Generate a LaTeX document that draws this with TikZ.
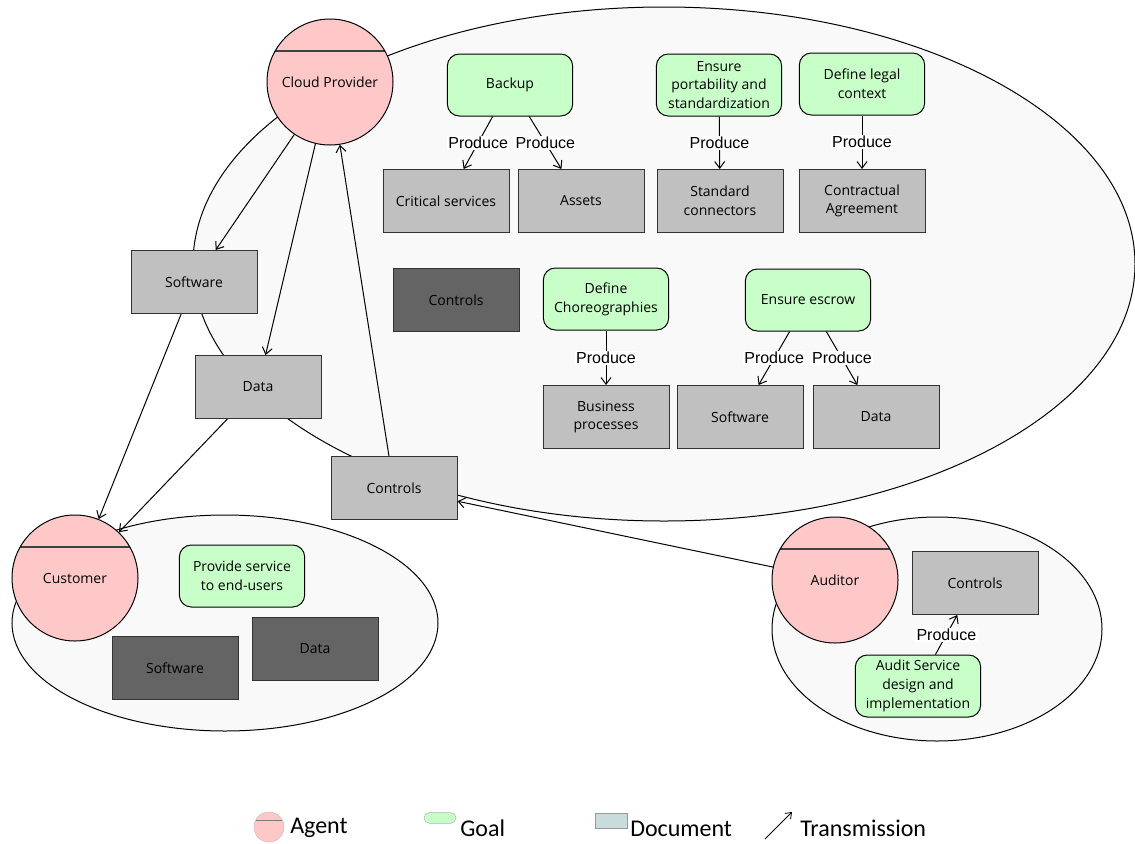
\documentclass[tikz,border=0pt]{standalone}
\usepackage{fontspec}
\setmainfont{Open Sans}
\newfontfamily\labelfont{Liberation Sans}
\newfontfamily\legendfont{Carlito}
\usetikzlibrary{arrows.meta,shapes.geometric}
\definecolor{agentfill}{HTML}{FFC8C8}
\definecolor{goalfill}{HTML}{C8FFC8}
\definecolor{docfill}{HTML}{C0C0C0}
\definecolor{darkdocfill}{HTML}{646464}
\definecolor{areafill}{HTML}{F9F9F9}
\definecolor{legdoc}{HTML}{C8DCDC}
\definecolor{chordcol}{HTML}{404040}
\tikzset{
  txt/.style={font=\fontsize{10.5}{14}\selectfont, align=center},
  area/.style={ellipse, draw=black, line width=0.75pt, fill=areafill, inner sep=0pt},
  agent/.style={circle, draw=black, line width=0.75pt, fill=agentfill, minimum size=94.5pt, inner sep=0pt, txt,
    path picture={\draw[chordcol, line width=1pt] ([shift={(-41.1pt,23.25pt)}]path picture bounding box.center) -- ++(82.2pt,0pt);}},
  doc/.style={rectangle, draw=black!80, line width=0.75pt, fill=docfill, minimum width=94.5pt, minimum height=47.25pt, inner sep=1pt, txt},
  darkdoc/.style={doc, fill=darkdocfill},
  goal/.style={rectangle, rounded corners=9pt, draw=black, line width=0.75pt, fill=goalfill, minimum width=94pt, minimum height=46.5pt, inner sep=1pt, txt},
  tip/.style={-{Straight Barb[length=5pt,width=7.5pt]}},
  trans/.style={tip, line width=0.75pt},
  prod/.style={tip, line width=0.75pt},
  plabel/.style={fill=white, inner sep=1pt, font=\labelfont\fontsize{12}{14}\selectfont},
  legtext/.style={anchor=west, inner sep=0pt, font=\legendfont\fontsize{18}{20}\selectfont}
}
\begin{document}
\begin{tikzpicture}[x=0.75pt,y=-0.75pt]
\useasboundingbox (0,0) rectangle (1135,843);
% areas
\node[area, minimum width=706.5pt, minimum height=385.5pt] (cparea) at (664,264) {};
\node[area, minimum width=319.5pt, minimum height=162pt] (custarea) at (225,623) {};
\node[area, minimum width=247.5pt, minimum height=168pt] (audarea) at (937,629) {};
% agents
\node[agent] (cp) at (330,82) {Cloud Provider};
\node[agent] (cust) at (75,578) {Customer};
\node[agent] (aud) at (835,580) {Auditor};
% cloud provider goals and documents
\node[goal] (backup) at (510,85) {Backup};
\node[goal] (port) at (719,85) {Ensure\\portability and\\standardization};
\node[goal] (legal) at (862,84) {Define legal\\context};
\node[doc] (crit) at (446,201) {Critical services};
\node[doc] (assets) at (581,201) {Assets};
\node[doc] (stdcon) at (720,201) {Standard\\connectors};
\node[doc] (contract) at (862,201) {Contractual\\Agreement};
\node[darkdoc] (ctrldark) at (456,300) {Controls};
\node[goal] (chor) at (606,299) {Define\\Choreographies};
\node[goal] (escrow) at (808,300) {Ensure escrow};
\node[doc] (bproc) at (606,417) {Business\\processes};
\node[doc] (sw2) at (740,417) {Software};
\node[doc] (data2) at (876,417) {Data};
% transmitted documents
\node[doc] (sw) at (194,282) {Software};
\node[doc] (data) at (258,387) {Data};
\node[doc] (ctrl) at (394,488) {Controls};
% customer
\node[goal] (provide) at (242,576) {Provide service\\to end-users};
\node[darkdoc] (custsw) at (175,668) {Software};
\node[darkdoc] (custdata) at (315,649) {Data};
% auditor
\node[doc] (audctrl) at (975,583) {Controls};
\node[goal] (audgoal) at (918,686) {Audit Service\\design and\\implementation};
% produce edges
\draw[prod] (backup) -- node[plabel]{Produce} (crit);
\draw[prod] (backup) -- node[plabel]{Produce} (assets);
\draw[prod] (port) -- node[plabel]{Produce} (stdcon);
\draw[prod] (legal) -- node[plabel]{Produce} (contract);
\draw[prod] (chor) -- node[plabel]{Produce} (bproc);
\draw[prod] (escrow) -- node[plabel]{Produce} (sw2);
\draw[prod] (escrow) -- node[plabel]{Produce} (data2);
\draw[prod] (audgoal) -- node[plabel]{Produce} (audctrl);
% transmissions
\draw[trans] (cp) -- (sw);
\draw[trans] (cp) -- (data);
\draw[trans] (ctrl) -- (cp);
\draw[trans] (sw) -- (cust);
\draw[trans] (data) -- (cust);
\draw[trans] (aud) -- (ctrl);
% legend
\node[circle, draw=agentfill!70!black!60, fill=agentfill, minimum size=22.5pt, inner sep=0pt,
  path picture={\draw[chordcol!70, line width=0.6pt] ([shift={(-10pt,5pt)}]path picture bounding box.center) -- ++(20pt,0pt);}] (legagent) at (269,827) {};
\node[legtext] (legagenttxt) at (290,828) {Agent};
\node[rectangle, rounded corners=4pt, draw=black!30, fill=goalfill, minimum width=24pt, minimum height=8pt, inner sep=0pt] (leggoal) at (440,818) {};
\node[legtext] (leggoaltxt) at (460,828) {Goal};
\node[rectangle, draw=black!40, fill=legdoc, minimum width=24pt, minimum height=11pt, inner sep=0pt] (legdoc) at (611,821) {};
\node[legtext] (legdoctxt) at (630,829) {Document};
\coordinate (legarrA) at (765,839);
\coordinate (legarrB) at (792,812);
\draw[-{Straight Barb[length=4pt,width=6pt]}, line width=0.6pt] (legarrA) -- (legarrB);
\node[legtext] (legtranstxt) at (800,828) {Transmission};
\end{tikzpicture}
\end{document}
